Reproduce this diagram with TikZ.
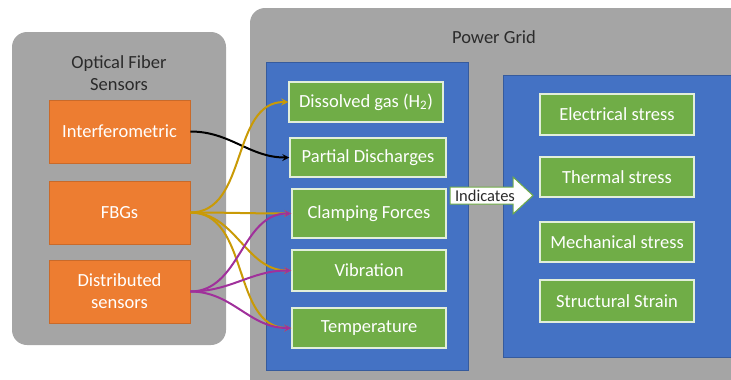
\documentclass[tikz,border=0pt]{standalone}
\usepackage{fontspec}
\setmainfont{Carlito}
\usetikzlibrary{arrows,positioning}

\definecolor{panelgray}{HTML}{A5A5A5}
\definecolor{sensororange}{HTML}{ED7D31}
\definecolor{gridblue}{HTML}{4472C4}
\definecolor{effgreen}{HTML}{70AD47}
\definecolor{fbggold}{HTML}{C99A06}
\definecolor{distpurple}{HTML}{A0309B}
\definecolor{titletext}{HTML}{2B2B2B}

\tikzset{
  panel/.style={fill=panelgray, draw=none, rounded corners=15pt},
  area/.style={fill=gridblue, draw=gridblue!80!black, line width=0.8pt},
  sensor/.style={rectangle, fill=sensororange, draw=sensororange!85!black,
    line width=0.8pt, text=white, align=center, minimum width=141pt,
    minimum height=63pt, font=\fontsize{18.5}{22}\selectfont},
  effect/.style={rectangle, fill=effgreen, draw=white!80!effgreen,
    line width=1.5pt, text=white, minimum width=154pt,
    font=\fontsize{18.5}{22}\selectfont},
  heading/.style={text=titletext, align=center, font=\fontsize{18.5}{22}\selectfont},
  link/.style={->, line width=2pt, out=0, in=180}
}

\begin{document}
\begin{tikzpicture}[>=stealth, x=1pt, y=-1pt]
  \clip (0,0) rectangle (731,380);

  % Left: sensor panel
  \fill[panel] (12,32) rectangle (226,345);
  \node[heading] (sensorshead) at (119,73) {Optical Fiber\\Sensors};
  \node[sensor] (interf) at (119.5,131.5) {Interferometric};
  \node[sensor] (fbg)    at (119.5,212.5) {FBGs};
  \node[sensor] (dist)   at (119.5,291.5) {Distributed\\sensors};

  % Right: power grid panel
  \fill[panel] (250,8) rectangle (780,420);
  \node[heading] (gridhead) at (494,37) {Power Grid};
  \filldraw[area] (266,62) rectangle (468,370);
  \filldraw[area] (503,75) rectangle (740,357);

  % Measured quantities
  \node[effect, minimum height=40pt] (gas)   at (366,102)   {Dissolved gas (H\textsubscript{2})};
  \node[effect, minimum height=39pt, minimum width=156pt] (pd) at (368,157.5) {Partial Discharges};
  \node[effect, minimum height=49pt] (clamp) at (369,213.5) {Clamping Forces};
  \node[effect, minimum height=41pt] (vib)   at (369,270.5) {Vibration};
  \node[effect, minimum height=40pt] (temp)  at (369,328)   {Temperature};

  % Stresses
  \node[effect, minimum height=41pt] (elec)   at (617,114.5) {Electrical stress};
  \node[effect, minimum height=40pt] (therm)  at (617,177)   {Thermal stress};
  \node[effect, minimum height=40pt] (mech)   at (617,242)   {Mechanical stress};
  \node[effect, minimum height=42pt] (struct) at (617,301)   {Structural Strain};

  % Block arrow
  \filldraw[fill=white, draw=effgreen, line width=1pt]
    (450,187) -- (513,187) -- (513,177) -- (533,195.5) -- (513,214)
    -- (513,204) -- (450,204) -- cycle;
  \node[text=titletext, font=\fontsize{16.5}{18}\selectfont] (indic) at (485,195.5) {Indicates};

  % Connectors
  \draw[link, black] (interf.east) to (pd.west);
  \draw[link, fbggold] (fbg.east) to (gas.west);
  \draw[link, fbggold] (fbg.east) to (clamp.west);
  \draw[link, fbggold] (fbg.east) to (vib.west);
  \draw[link, fbggold] (fbg.east) to (temp.west);
  \draw[link, distpurple] (dist.east) to (clamp.west);
  \draw[link, distpurple] (dist.east) to (vib.west);
  \draw[link, distpurple] (dist.east) to (temp.west);
\end{tikzpicture}
\end{document}
